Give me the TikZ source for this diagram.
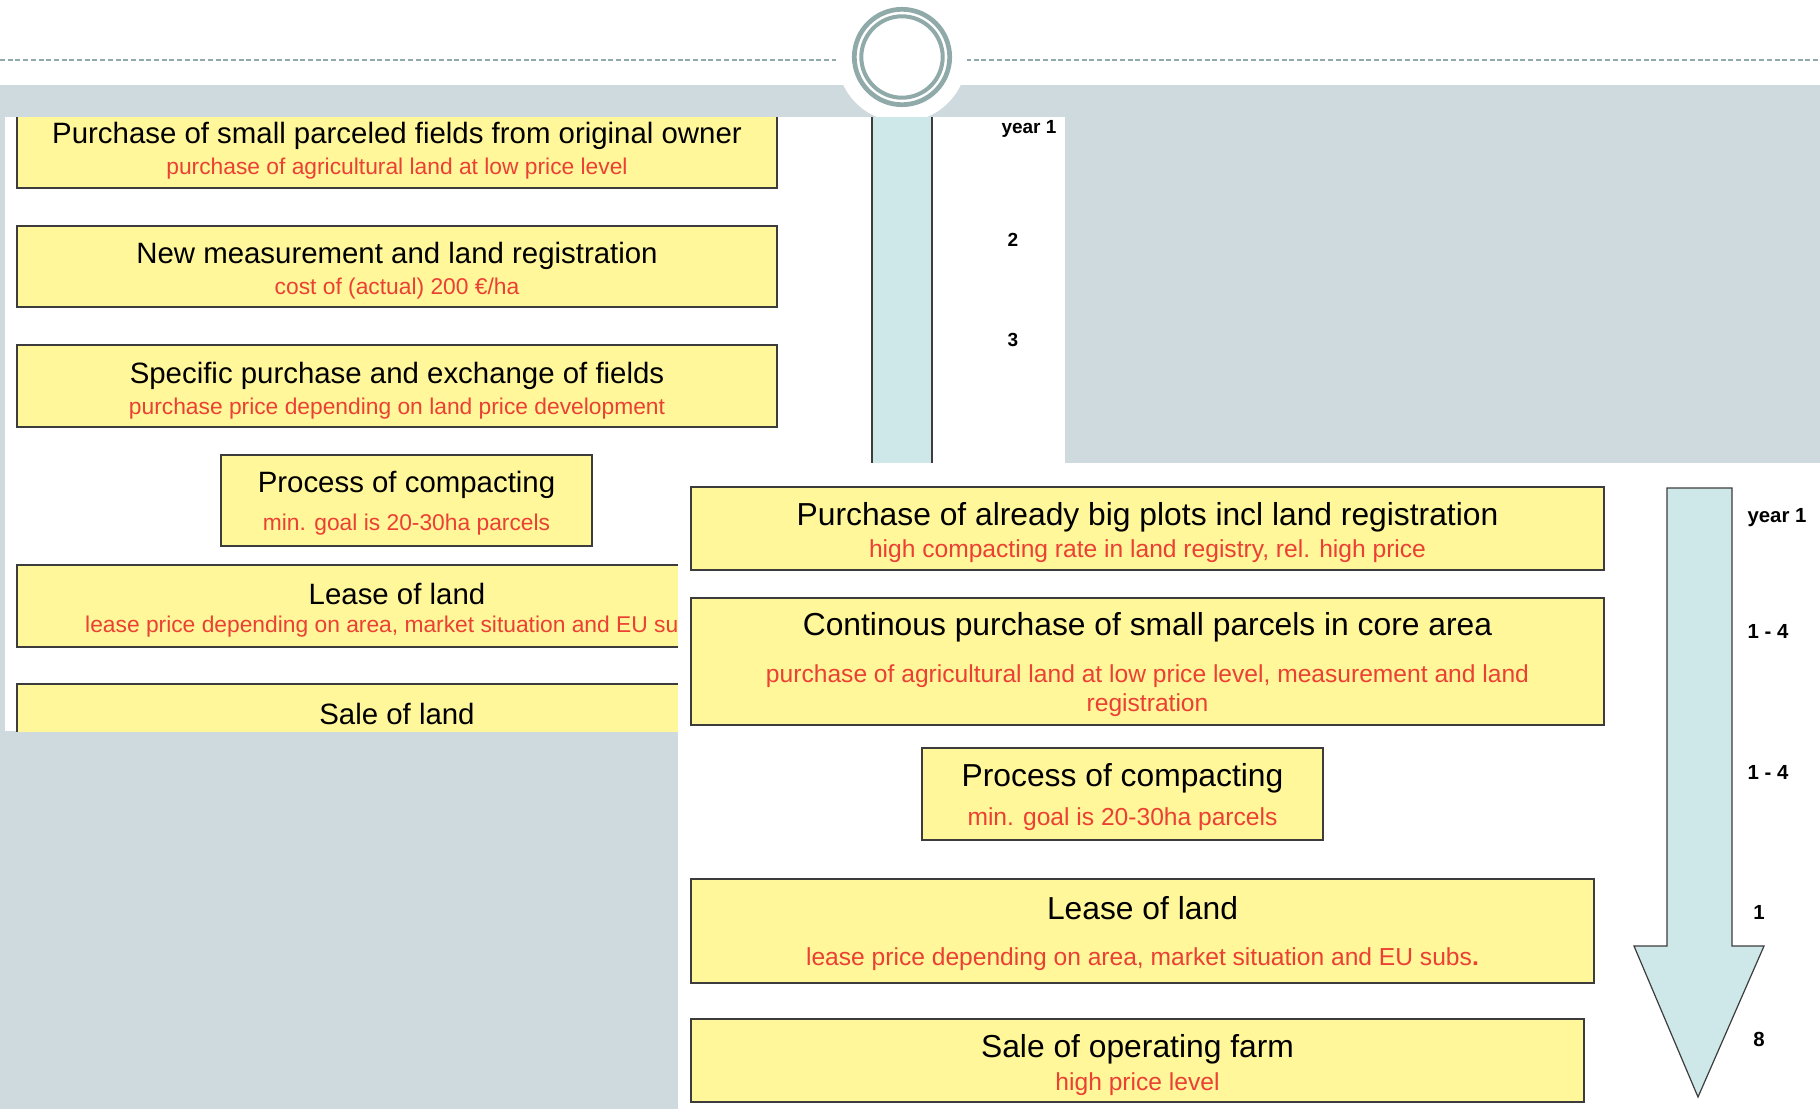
\documentclass[tikz,border=0pt]{standalone}
\usepackage{fontspec}
\setmainfont{Liberation Sans}
\usepackage{tikz}

\definecolor{slidegrey}{RGB}{207,218,222}
\definecolor{ringcol}{RGB}{143,170,168}
\definecolor{boxfill}{RGB}{255,247,153}
\definecolor{boxline}{RGB}{60,60,60}
\definecolor{subred}{RGB}{235,64,52}
\definecolor{barblue}{RGB}{206,232,233}

\begin{document}
\begin{tikzpicture}[
    x=1pt, y=-1pt,
    bx/.style={draw=boxline, line width=1.8pt, fill=boxfill, inner sep=0pt},
    ttl/.style={inner sep=0pt, yshift=-3pt, font=\fontsize{29.4}{32}\selectfont},
    sub/.style={inner sep=0pt, yshift=-3pt, text=subred, font=\fontsize{22.8}{26}\selectfont},
    bigttl/.style={inner sep=0pt, yshift=-3pt, font=\fontsize{31.8}{35}\selectfont},
    bigsub/.style={inner sep=0pt, yshift=-3pt, text=subred, align=center, font=\fontsize{24.6}{29}\selectfont},
    yr/.style={inner sep=0pt, font=\bfseries\fontsize{19}{22}\selectfont},
    bigyr/.style={inner sep=0pt, font=\bfseries\fontsize{20.4}{23}\selectfont}
  ]
  \useasboundingbox (0,0) rectangle (1820,1109);

  % Hintergrund
  \fill[slidegrey] (0,0) rectangle (1820,1109);
  \fill[white] (0,0) rectangle (1820,85);
  \draw[ringcol, line width=2pt, dash pattern=on 5pt off 2.7pt] (0,60) -- (836,60);
  \draw[ringcol, line width=2pt, dash pattern=on 5pt off 2.7pt] (966,60) -- (1820,60);
  \fill[white] (902,57) circle (65);
  \draw[ringcol, line width=4.7pt] (902,57) circle (47.7);
  \draw[ringcol, line width=4pt] (902,57) circle (40.7);

  % linke Seite
  \fill[white] (5,117) rectangle (1065,731);
  \begin{scope}
    \clip (5,117) rectangle (1065,731);
    \draw[boxline, line width=1.5pt, fill=barblue] (872,90) rectangle (932,490);

    \node[bx, minimum width=760, minimum height=81] (old1) at (397,147.5) {};
    \node[ttl] (old1t) at (397,133) {Purchase of small parceled fields from original owner};
    \node[sub] (old1s) at (397,166) {purchase of agricultural land at low price level};

    \node[bx, minimum width=760, minimum height=81] (old2) at (397,266.5) {};
    \node[ttl] (old2t) at (397,253) {New measurement and land registration};
    \node[sub] (old2s) at (397,286) {cost of (actual) 200 €/ha};

    \node[bx, minimum width=760, minimum height=82] (old3) at (397,386) {};
    \node[ttl] (old3t) at (397,373) {Specific purchase and exchange of fields};
    \node[sub] (old3s) at (397,406) {purchase price depending on land price development};

    \node[bx, minimum width=371, minimum height=91] (old4) at (406.5,500.5) {};
    \node[ttl] (old4t) at (406.5,482) {Process of compacting};
    \node[sub] (old4s) at (406.5,522) {min. goal is 20-30ha parcels};

    \node[bx, minimum width=760, minimum height=82] (old5) at (397,606) {};
    \node[ttl] (old5t) at (397,591) {Lease of land};
    \node[sub] (old5s) at (397,624) {lease price depending on area, market situation and EU subs.};

    \node[bx, minimum width=760, minimum height=82] (old6) at (397,725) {};
    \node[ttl] (old6t) at (397,711) {Sale of land};

    \node[yr] (oldy1) at (1029,129) {year 1};
    \node[yr] (oldy2) at (1013,240) {2};
    \node[yr] (oldy3) at (1013,340) {3};
  \end{scope}

  % rechte Seite
  \fill[white] (678,463) rectangle (1820,1109);
  \draw[boxline, line width=1.2pt, fill=barblue]
    (1667,488) -- (1732,488) -- (1732,946) -- (1764,946) -- (1698,1097)
    -- (1634,946) -- (1667,946) -- cycle;

  \node[bx, minimum width=913, minimum height=83] (new1) at (1147.5,528.5) {};
  \node[bigttl] (new1t) at (1147.5,514) {Purchase of already big plots incl land registration};
  \node[bigsub] (new1s) at (1147.5,548) {high compacting rate in land registry, rel. high price};

  \node[bx, minimum width=913, minimum height=127] (new2) at (1147.5,661.5) {};
  \node[bigttl] (new2t) at (1147.5,624) {Continous purchase of small parcels in core area};
  \node[bigsub] (new2s) at (1147.5,687.5) {purchase of agricultural land at low price level, measurement and land\\registration};

  \node[bx, minimum width=401, minimum height=92] (new3) at (1122.5,794) {};
  \node[bigttl] (new3t) at (1122.5,775) {Process of compacting};
  \node[bigsub] (new3s) at (1122.5,816) {min. goal is 20-30ha parcels};

  \node[bx, minimum width=903, minimum height=104] (new4) at (1142.5,931) {};
  \node[bigttl] (new4t) at (1142.5,905) {Lease of land};
  \node[bigsub] (new4s) at (1142.5,956) {lease price depending on area, market situation and EU subs{\bfseries .}};

  \node[bx, minimum width=893, minimum height=83] (new5) at (1137.5,1060.5) {};
  \node[bigttl] (new5t) at (1137.5,1046) {Sale of operating farm};
  \node[bigsub] (new5s) at (1137.5,1081) {high price level};

  \node[bigyr] (newy1) at (1777,518) {year 1};
  \node[bigyr] (newy2) at (1768,631) {1 - 4};
  \node[bigyr] (newy3) at (1768,772) {1 - 4};
  \node[bigyr] (newy4) at (1759,912) {1};
  \node[bigyr] (newy5) at (1759,1039) {8};
\end{tikzpicture}
\end{document}
